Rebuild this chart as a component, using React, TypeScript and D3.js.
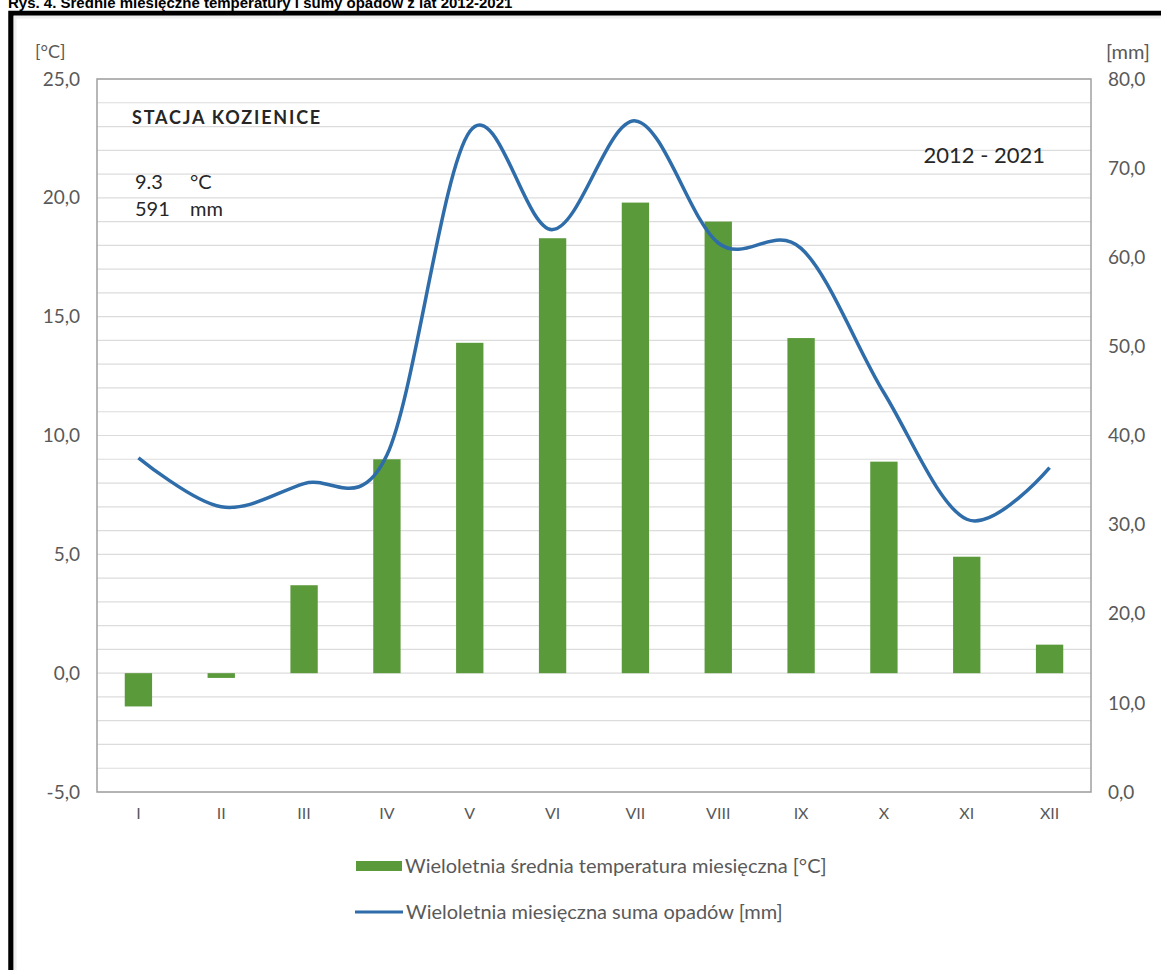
import React from "react";
import * as d3 from "d3";

const months = ["I", "II", "III", "IV", "V", "VI", "VII", "VIII", "IX", "X", "XI", "XII"];
const temperature = [-1.4, -0.2, 3.7, 9.0, 13.9, 18.3, 19.8, 19.0, 14.1, 8.9, 4.9, 1.2];
const precipitation = [37.5, 32.0, 34.6, 37.8, 74.1, 63.1, 75.3, 61.6, 61.0, 44.8, 30.6, 36.4];
const leftTicks = [-5, 0, 5, 10, 15, 20, 25];
const rightTicks = [0, 10, 20, 30, 40, 50, 60, 70, 80];
const gridTicks = d3.range(-5, 26, 1);

const title = "Rys. 4. Średnie miesięczne temperatury i sumy opadów z lat 2012-2021";
const stationLabel = "STACJA KOZIENICE";
const periodLabel = "2012 - 2021";
const meanTemp = "9.3";
const sumPrecip = "591";
const legendTemp = "Wieloletnia średnia temperatura miesięczna [°C]";
const legendPrecip = "Wieloletnia miesięczna suma opadów [mm]";

const W = 1161;
const H = 970;
const plot = { left: 97, right: 1091, top: 79, bottom: 792 };
const font = "Lato, 'Open Sans', sans-serif";
const axisColor = "#595959";
const green = "#5B9A3B";
const blue = "#2E6DA9";

export default function App() {
  const x = d3.scaleBand<string>().domain(months).range([plot.left, plot.right]).paddingInner(0.67).paddingOuter(0.335);
  const yT = d3.scaleLinear().domain([-5, 25]).range([plot.bottom, plot.top]);
  const yP = d3.scaleLinear().domain([0, 80]).range([plot.bottom, plot.top]);
  const cx = (m: string) => (x(m) as number) + x.bandwidth() / 2;

  const line = d3
    .line<number>()
    .x((_, i) => cx(months[i]))
    .y((d) => yP(d))
    .curve(d3.curveCardinal.tension(0));

  const fmt = (v: number) => v.toFixed(1).replace(".", ",");

  return (
    <svg
      width={W}
      height={H}
      style={{ position: "absolute", left: 0, top: 0, display: "block" }}
    >
      <rect x={0} y={0} width={W} height={H} fill="#ffffff" />
      <text x={8} y={8} fontFamily="Arial, 'Liberation Sans', sans-serif" fontWeight="bold" fontSize={15} fill="#000">
        {title}
      </text>
      {/* frame */}
      <rect x={11} y={13.5} width={W + 20} height={H + 20} fill="#ffffff" stroke="#000" strokeWidth={5.5} />
      <rect x={15} y={17} width={W} height={H} fill="none" stroke="#f0f0f0" strokeWidth={3} />

      {/* gridlines */}
      {gridTicks.map((t) => (
        <line key={t} x1={plot.left} x2={plot.right} y1={yT(t)} y2={yT(t)} stroke="#dcdcdc" strokeWidth={1.2} />
      ))}

      {/* bars */}
      {temperature.map((v, i) => (
        <rect
          key={months[i]}
          x={x(months[i])}
          width={x.bandwidth()}
          y={Math.min(yT(v), yT(0))}
          height={Math.max(Math.abs(yT(v) - yT(0)), 2.5)}
          fill={green}
        />
      ))}

      {/* plot border */}
      <rect
        x={plot.left}
        y={plot.top}
        width={plot.right - plot.left}
        height={plot.bottom - plot.top}
        fill="none"
        stroke="#a0a0a0"
        strokeWidth={1.5}
      />

      {/* precipitation line */}
      <path d={line(precipitation) || ""} fill="none" stroke={blue} strokeWidth={3.5} strokeLinejoin="round" />

      {/* left axis */}
      {leftTicks.map((t) => (
        <text key={t} x={80} y={yT(t)} dy="0.35em" textAnchor="end" fontFamily={font} fontSize={19} fill={axisColor}>
          {fmt(t)}
        </text>
      ))}
      <text x={35} y={52} dy="0.35em" fontFamily={font} fontSize={18} fill={axisColor}>
        [°C]
      </text>

      {/* right axis */}
      {rightTicks.map((t) => (
        <text key={t} x={1108} y={yP(t)} dy="0.35em" textAnchor="start" fontFamily={font} fontSize={19} fill={axisColor}>
          {fmt(t)}
        </text>
      ))}
      <text x={1150} y={52} dy="0.35em" textAnchor="end" fontFamily={font} fontSize={20} fill={axisColor}>
        [mm]
      </text>

      {/* x labels */}
      {months.map((m) => (
        <text key={m} x={cx(m)} y={813} dy="0.35em" textAnchor="middle" fontFamily={font} fontSize={16} fill={axisColor}>
          {m}
        </text>
      ))}

      {/* annotations */}
      <text x={132} y={118} dy="0.35em" fontFamily={font} fontWeight="bold" fontSize={18} letterSpacing={1.8} fill="#262626">
        {stationLabel}
      </text>
      <text x={135} y={182} dy="0.35em" fontFamily={font} fontSize={20} fill="#262626">
        {meanTemp}
      </text>
      <text x={190} y={182} dy="0.35em" fontFamily={font} fontSize={20} fill="#262626">
        °C
      </text>
      <text x={135} y={209} dy="0.35em" fontFamily={font} fontSize={20} fill="#262626">
        {sumPrecip}
      </text>
      <text x={190} y={209} dy="0.35em" fontFamily={font} fontSize={20} fill="#262626">
        mm
      </text>
      <text x={1045} y={155} dy="0.35em" textAnchor="end" fontFamily={font} fontSize={22} fill="#262626">
        {periodLabel}
      </text>

      {/* legend */}
      <rect x={356} y={861} width={46} height={10} fill={green} />
      <text x={405} y={866} dy="0.35em" fontFamily={font} fontSize={20} fill={axisColor}>
        {legendTemp}
      </text>
      <line x1={355} x2={403} y1={912} y2={912} stroke={blue} strokeWidth={3} />
      <text x={406} y={912} dy="0.35em" fontFamily={font} fontSize={20} fill={axisColor}>
        {legendPrecip}
      </text>
    </svg>
  );
}
